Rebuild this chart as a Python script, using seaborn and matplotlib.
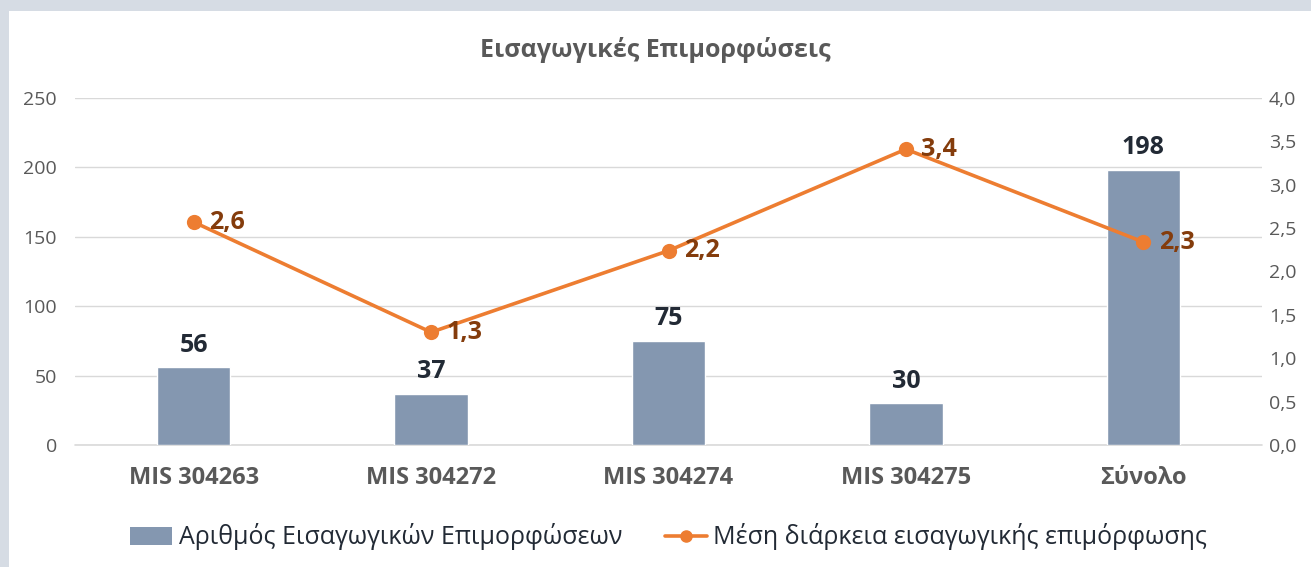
import matplotlib
matplotlib.use("Agg")
import matplotlib.pyplot as plt
from matplotlib.patches import Rectangle
from matplotlib.lines import Line2D
from matplotlib.ticker import FuncFormatter, MultipleLocator
import seaborn as sns
import pandas as pd

# === DATA ===
categories = ["MIS 304263", "MIS 304272", "MIS 304274", "MIS 304275", "Σύνολο"]
trainings_count = [56, 37, 75, 30, 198]
avg_duration = [2.57, 1.30, 2.24, 3.41, 2.34]

bar_name = "Αριθμός Εισαγωγικών Επιμορφώσεων"
line_name = "Μέση διάρκεια εισαγωγικής επιμόρφωσης"
title = "Εισαγωγικές Επιμορφώσεις"

# === STYLE ===
BAR_COLOR = "#8497b0"
LINE_COLOR = "#ed7d31"
LINE_LABEL_COLOR = "#843c0c"
DARK_TEXT = "#222a35"
GRAY_TEXT = "#595959"
GRID_COLOR = "#d9d9d9"

sns.set_theme(style="white")
plt.rcParams["font.family"] = ["Open Sans", "DejaVu Sans"]

df = pd.DataFrame({"Category": categories, "Count": trainings_count, "Duration": avg_duration})

fig = plt.figure(figsize=(13.11, 5.67), dpi=100)
fig.patch.set_facecolor("#d6dce4")
fig.patches.append(Rectangle((9 / 1311, 0), 1, 1 - 11 / 567, transform=fig.transFigure,
                             facecolor="white", edgecolor="none", zorder=-5))

ax = fig.add_axes([75 / 1311, 122 / 567, (1262 - 75) / 1311, (445 - 98) / 567])
ax.set_facecolor("none")

# bars
sns.barplot(data=df, x="Category", y="Count", color=BAR_COLOR, width=0.31,
            saturation=1, ax=ax, zorder=2)
ax.bar_label(ax.containers[0], padding=7, fontsize=18, fontweight="bold", color=DARK_TEXT)

ax.set_ylim(0, 250)
ax.set_xlim(-0.5, len(categories) - 0.5)
ax.yaxis.set_major_locator(MultipleLocator(50))
ax.grid(axis="y", color=GRID_COLOR, linewidth=1, zorder=0)
ax.axhline(0, color=GRID_COLOR, linewidth=1.2, clip_on=False, zorder=1)
ax.set_axisbelow(True)
for s in ax.spines.values():
    s.set_visible(False)
ax.set_xlabel("")
ax.set_ylabel("")
ax.tick_params(axis="y", labelsize=14, labelcolor=GRAY_TEXT, length=0, pad=13)
ax.tick_params(axis="x", labelsize=17, labelcolor=GRAY_TEXT, length=0, pad=15)
for lbl in ax.get_xticklabels():
    lbl.set_fontweight("bold")

# line on secondary axis
ax2 = ax.twinx()
sns.pointplot(data=df, x="Category", y="Duration", color=LINE_COLOR, ax=ax2,
              markers="o", markersize=9, linewidth=2.6, zorder=3)
ax2.set_ylim(0, 4.0)
ax2.set_xlim(-0.5, len(categories) - 0.5)
ax2.yaxis.set_major_locator(MultipleLocator(0.5))
ax2.yaxis.set_major_formatter(FuncFormatter(lambda v, p: f"{v:.1f}".replace(".", ",")))
ax2.tick_params(axis="y", labelsize=14, labelcolor=GRAY_TEXT, length=0, pad=5)
ax2.set_ylabel("")
ax2.set_xlabel("")
ax2.grid(False)
for s in ax2.spines.values():
    s.set_visible(False)

for i, v in enumerate(avg_duration):
    ax2.annotate(f"{v:.1f}".replace(".", ","), (i, v), xytext=(11, 0),
                 textcoords="offset points", ha="left", va="center",
                 fontsize=18, fontweight="bold", color=LINE_LABEL_COLOR)

fig.text(0.5, 1 - 50 / 567, title, ha="center", va="center", fontsize=18,
         fontweight="bold", color=GRAY_TEXT)

handles = [Rectangle((0, 0), 1, 1, facecolor=BAR_COLOR, edgecolor="none"),
           Line2D([0], [0], color=LINE_COLOR, linewidth=2.6, marker="o", markersize=8)]
leg = fig.legend(handles, [bar_name, line_name], loc="center", ncol=2,
                 bbox_to_anchor=(0.51, 1 - 537 / 567), frameon=False,
                 fontsize=18, handlelength=1.7, handletextpad=0.25, columnspacing=1.7)
for t in leg.get_texts():
    t.set_color(DARK_TEXT)

fig.savefig("out.png", dpi=100, facecolor=fig.get_facecolor())
